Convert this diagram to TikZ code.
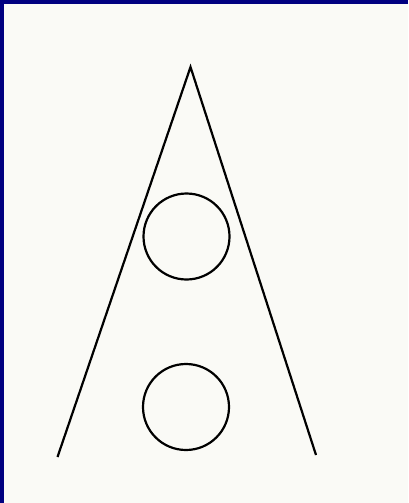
\documentclass[tikz,border=0pt]{standalone}
\definecolor{frameblue}{RGB}{0,0,128}
\definecolor{paper}{RGB}{250,250,246}
\tikzset{ring/.style={draw,circle,line width=2.2pt,minimum size=86pt,inner sep=0pt}}
\begin{document}
\begin{tikzpicture}[x=1pt,y=-1pt,line width=2.2pt]

  \fill[frameblue] (0,0) rectangle (408,503);
  \fill[paper] (4,4) rectangle (408,503);
  \useasboundingbox (0,0) rectangle (408,503);

  \coordinate (apex) at (190.5,67);
  \coordinate (left) at (57.5,457);
  \coordinate (right) at (316,455);
  \draw[line join=miter] (left) -- (apex) -- (right);

  \node[ring] (upper) at (186.5,236.5) {};
  \node[ring] (lower) at (186,407) {};

\end{tikzpicture}
\end{document}
